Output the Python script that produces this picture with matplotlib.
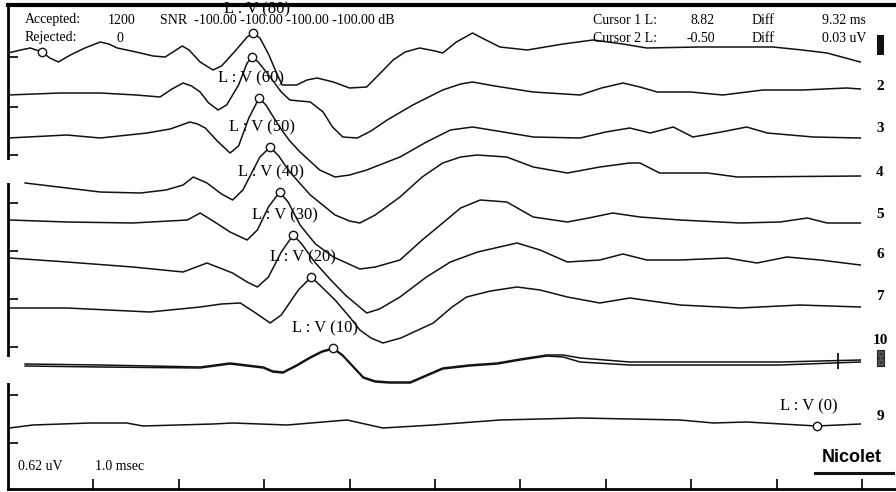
import numpy as np
import matplotlib.pyplot as plt
from matplotlib.patches import Rectangle

W, H = 896, 492
plt.rcParams['font.family'] = ['Liberation Serif', 'DejaVu Serif']

# channel numbers printed at the right end of each trace
trace_names = ['', '2', '3', '4', '5', '6', '7', '10', '9']
# stimulus level (dB) of the wave V marker on each trace
v_levels = [80, None, 60, 50, 40, 30, 20, 10, 0]
# wave V latency (ms)
v_latency = [2.87, 2.86, 2.94, 3.07, 3.18, 3.34, 3.55, 3.81, 9.47]
cursor1_ms = 0.40
cursor_tick_ms = 9.72

# time (ms) / amplitude pairs
t1 = [0, 0.15, 0.26, 0.40, 0.49, 0.59, 0.73, 0.90, 1.08, 1.18, 1.28, 1.50, 1.70, 1.84, 1.95, 2.04,
      2.12, 2.25, 2.40, 2.50, 2.65, 2.80, 2.87, 2.95, 3.05, 3.15, 3.21, 3.38, 3.50, 3.62, 3.81,
      4.00, 4.20, 4.35, 4.51, 4.65, 4.82, 5.00, 5.09, 5.25, 5.44, 5.55, 5.76, 6.08, 6.50, 6.85,
      7.20, 7.48, 8.10, 8.96, 9.30, 9.59, 9.98]
a1 = [-1, 2, 4, 0, -6, -10, -3, 4, 10, 8, 4, 0, -4, -5, 1, 6,
      2, -10, -18, -14, 0, 15, 19, 14, -2, -22, -33, -33, -28, -26, -30,
      -36, -35, -22, -8, 0, 4, 1, -1, 10, 19, 14, 5, 2, 8, 12,
      8, 4, 5, 5, 2, -1, -10]

t2 = [0, 0.61, 1.08, 1.50, 1.78, 1.92, 2.05, 2.15, 2.25, 2.35, 2.46, 2.56, 2.70, 2.80, 2.86,
      2.93, 3.07, 3.20, 3.30, 3.54, 3.69, 3.80, 3.92, 4.09, 4.25, 4.44, 4.74, 5.09, 5.30, 5.44,
      5.70, 6.15, 6.70, 6.95, 7.20, 7.40, 7.60, 7.99, 8.37, 8.84, 9.30, 9.82, 9.98]
a2 = [0, 2, 2, 0, -2, 6, 12, 9, 3, -8, -15, -10, 10, 32, 38,
      33, 18, 3, -5, -7, -17, -32, -42, -43, -36, -25, -10, 5, 11, 13,
      9, 3, 0, 7, 12, 8, 3, 3, 0, 5, 5, 7, 6]

t3 = [0, 0.69, 1.08, 1.63, 1.90, 2.13, 2.22, 2.31, 2.45, 2.60, 2.70, 2.82, 2.94, 3.02, 3.18,
      3.30, 3.42, 3.65, 3.83, 4.00, 4.20, 4.59, 4.90, 5.18, 5.44, 5.80, 6.15, 6.70, 7.00, 7.28,
      7.52, 7.79, 8.02, 8.35, 8.65, 8.89, 9.43, 9.98]
a3 = [0, 3, 0, 5, 9, 16, 14, 10, -3, -15, -8, 20, 40, 33, 11,
      -3, -14, -32, -39, -37, -32, -19, -4, 8, 11, 6, 1, 0, 6, 10,
      5, 11, 1, 6, 11, 5, 1, 0]

t4 = [0.20, 0.69, 1.08, 1.55, 1.85, 2.05, 2.17, 2.33, 2.50, 2.63, 2.75, 2.95, 3.07, 3.17, 3.30,
      3.54, 3.83, 4.00, 4.12, 4.30, 4.59, 4.85, 5.09, 5.30, 5.49, 5.84, 6.15, 6.55, 6.93, 7.28,
      7.40, 7.63, 8.19, 8.54, 9.98]
a4 = [-1, -6, -10, -11, -8, -3, 5, -1, -12, -18, -8, 25, 35, 26, 10,
      -13, -33, -39, -41, -33, -15, 5, 19, 25, 27, 25, 15, 9, 15, 19,
      19, 9, 9, 5, 6]

t5 = [0.02, 0.69, 1.46, 2.10, 2.25, 2.42, 2.60, 2.80, 2.92, 3.05, 3.18, 3.28, 3.42, 3.60, 3.81,
      4.12, 4.30, 4.59, 4.85, 5.09, 5.30, 5.53, 5.84, 6.15, 6.55, 6.80, 7.08, 7.40, 7.87, 8.57,
      9.04, 9.36, 9.59, 9.98]
a5 = [2, 0, -1, 2, 9, 0, -10, -18, -8, 15, 30, 20, -3, -22, -35,
      -47, -45, -38, -18, -1, 14, 22, 20, 5, 0, 4, 9, 5, 2, -1,
      0, 4, -1, -1]

t6 = [0.02, 0.69, 1.46, 2.05, 2.33, 2.63, 2.80, 2.92, 3.05, 3.20, 3.34, 3.44, 3.59, 3.78, 3.95,
      4.20, 4.35, 4.59, 4.90, 5.18, 5.50, 5.96, 6.23, 6.55, 6.93, 7.20, 7.48, 7.87, 8.42, 8.77,
      9.12, 9.51, 9.98]
a6 = [4, 0, -5, -10, -1, -11, -20, -25, -15, 10, 27, 18, 0, -18, -33,
      -51, -47, -35, -15, 0, 10, 19, 12, 0, 2, 8, 2, 2, 4, -1,
      5, 2, -3]

t7 = [0.02, 0.69, 1.66, 2.25, 2.50, 2.72, 2.90, 3.07, 3.20, 3.40, 3.55, 3.65, 3.83, 4.00, 4.12,
      4.25, 4.39, 4.60, 4.98, 5.20, 5.37, 5.65, 5.96, 6.23, 6.55, 6.93, 7.28, 7.87, 8.57, 9.27,
      9.98]
a7 = [-3, -3, -7, -2, 1, 2, -8, -18, -10, 15, 28, 20, 5, -12, -25,
      -33, -38, -33, -18, -2, 8, 14, 18, 15, 8, 2, 7, 0, -3, 0,
      -2]

t10 = [0.20, 1.08, 2.25, 2.60, 2.99, 3.10, 3.22, 3.38, 3.54, 3.68, 3.81, 3.92, 4.16, 4.30, 4.47,
       4.71, 4.90, 5.09, 5.40, 5.73, 6.00, 6.31, 6.50, 6.70, 7.28, 8.10, 9.04, 9.98]
a10 = [-4, -5, -7, -3, -7, -11, -12, -5, 3, 9, 12, 5, -17, -21, -22,
       -22, -15, -8, -5, -3, 1, 5, 5, 2, -2, -2, -2, 0]
# replicate sweep drawn on top of channel 10
a10_rep = [-6, -7, -8, -4, -8, -12, -13, -6, 2, 8, 11, 4, -18, -22, -23,
           -23, -16, -9, -6, -4, 0, 4, 3, -2, -5, -5, -5, -2]

t9 = [0.02, 0.29, 0.96, 1.39, 1.58, 2.40, 2.63, 3.27, 3.97, 4.39, 4.98, 5.76, 6.70, 7.87, 8.26,
      8.65, 9.47, 9.98]
a9 = [-6, -3, -1, -1, -4, -2, -1, -3, 2, -6, -3, 2, 4, 2, -1,
      0, -4, -2]

traces = [(t1, a1), (t2, a2), (t3, a3), (t4, a4), (t5, a5), (t6, a6), (t7, a7), (t10, a10), (t9, a9)]

# layout (pixel rows of each trace baseline and of its channel number)
offsets = [52, 95, 138, 182, 222, 262, 305, 360, 422]
name_rows = [0, 86, 129, 172, 214, 254, 296, 341, 417]
px_per_ms = 85.4
x0, ytop, ybot = 8, 5, 489


def fx(x):
    return x / W


def fy(y):
    return 1 - y / H


fig = plt.figure(figsize=(W / 100, H / 100), dpi=100)
ax = fig.add_axes([fx(x0), fy(ybot), (W - x0) / W, (ybot - ytop) / H])
ax.set_xlim(0, (W - x0) / px_per_ms)
ax.set_ylim(ybot, ytop)

lw = 1.1
for i, (t, a) in enumerate(traces):
    y = offsets[i] - np.array(a)
    ax.plot(t, y, color='#111111', lw=lw, zorder=3, solid_joinstyle='round')
    my = offsets[i] - np.interp(v_latency[i], t, a)
    ax.plot(v_latency[i], my, 'o', ms=6, mfc='white', mec='#111111', mew=1, zorder=4)
    if v_levels[i] is not None:
        off = (3, 17) if i == 0 else (-6, 14)
        ax.annotate(f'L : V ({v_levels[i]})', xy=(v_latency[i], my), xytext=off,
                    textcoords='offset points', ha='center', va='center', fontsize=12, zorder=2)
    if trace_names[i]:
        fig.text(fx(880), fy(name_rows[i]), trace_names[i],
                 ha='center', va='center', fontsize=11, fontweight='bold')

ax.plot(t10, offsets[7] - np.array(a10_rep), color='#111111', lw=lw, zorder=3)
ax.plot(cursor1_ms, offsets[0] - np.interp(cursor1_ms, t1, a1), 'o', ms=6, mfc='white',
        mec='#111111', mew=1, zorder=4)
ax.plot(cursor_tick_ms, offsets[7] - np.interp(cursor_tick_ms, t10, a10), '|', ms=12,
        color='#111111', mew=1.3, zorder=4)

# frame
ax.spines['right'].set_visible(False)
ax.spines['top'].set_linewidth(3)
ax.spines['left'].set_linewidth(2)
ax.spines['bottom'].set_linewidth(2)
ax.set_xticks(np.arange(1, 11))
ax.set_xticklabels([])
ax.set_yticks([57, 107, 155, 203, 251, 299, 347, 395, 443])
ax.set_yticklabels([])
ax.tick_params(direction='in', length=7.5, width=1.3, color='#111111')

# gaps in the left border
for y0, y1 in [(160, 183), (357, 383)]:
    fig.patches.append(Rectangle((0, fy(y1)), fx(12), (y1 - y0) / H, transform=fig.transFigure,
                                 facecolor='white', edgecolor='none', zorder=10))

hdr = dict(fontsize=10, va='center', ha='left')
fig.text(fx(25), fy(20), 'Accepted:', **hdr)
fig.text(fx(108), fy(20), '1200', **hdr)
fig.text(fx(160), fy(20), 'SNR  -100.00 -100.00 -100.00 -100.00 dB', **hdr)
fig.text(fx(25), fy(38), 'Rejected:', **hdr)
fig.text(fx(116), fy(38), '0', **hdr)
fig.text(fx(593), fy(20), 'Cursor 1 L:', **hdr)
fig.text(fx(690), fy(20), '8.82', **hdr)
fig.text(fx(752), fy(20), 'Diff', **hdr)
fig.text(fx(822), fy(20), '9.32 ms', **hdr)
fig.text(fx(593), fy(38), 'Cursor 2 L:', **hdr)
fig.text(fx(686), fy(38), '-0.50', **hdr)
fig.text(fx(752), fy(38), 'Diff', **hdr)
fig.text(fx(822), fy(38), '0.03 uV', **hdr)
fig.text(fx(18), fy(467), '0.62 uV', **hdr)
fig.text(fx(95), fy(467), '1.0 msec', **hdr)

fig.patches.append(Rectangle((fx(877), fy(55)), fx(7), 20 / H, transform=fig.transFigure,
                             facecolor='#111111', edgecolor='none'))
fig.patches.append(Rectangle((fx(877), fy(366)), fx(7), 16 / H, transform=fig.transFigure,
                             facecolor='#555555', edgecolor='#222222', hatch='....', lw=0.8))

fig.text(fx(852), fy(458), 'Nicolet', family='Liberation Sans', fontweight='bold', fontsize=13,
         ha='center', va='center')
fig.add_artist(plt.Line2D([fx(815), fx(893)], [fy(473), fy(473)], color='#111111', lw=2.2))

fig.savefig('out.png', dpi=100)
